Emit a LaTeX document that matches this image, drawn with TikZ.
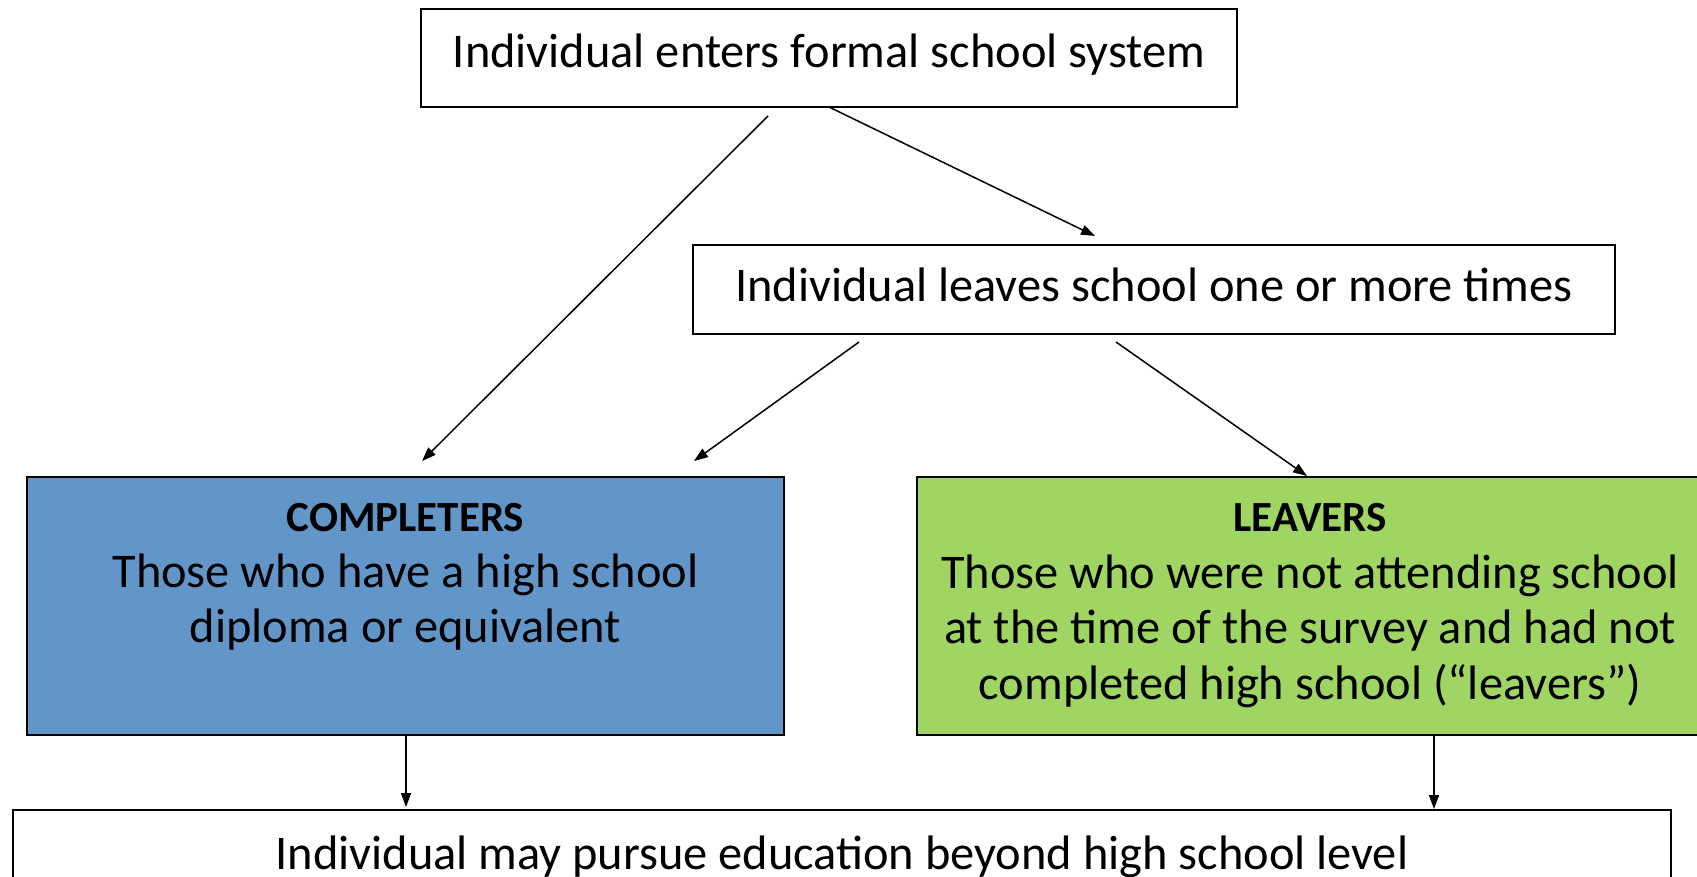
\documentclass[tikz,border=0pt]{standalone}
\usepackage{fontspec}
\setmainfont{Carlito}
\usetikzlibrary{arrows.meta}
\definecolor{compblue}{HTML}{6296C9}
\definecolor{leavgreen}{HTML}{A1D563}
\begin{document}
\begin{tikzpicture}[x=1pt,y=-1pt,
  box/.style={draw=black, line width=2pt, inner sep=0pt},
  lbl/.style={font=\fontsize{48.4}{55.5}\selectfont, align=center, inner sep=0pt},
  head/.style={font=\fontsize{43}{48}\selectfont\bfseries, inner sep=0pt},
  conn/.style={line width=1.5pt, -{Triangle[length=14pt,width=10pt]}}]
\useasboundingbox (0,0) rectangle (1697,876);
% boxes
\node[box, minimum width=816pt, minimum height=98pt] (top) at (829,58) {};
\node[box, minimum width=922pt, minimum height=89pt] (mid) at (1154,289.5) {};
\node[box, fill=compblue, minimum width=757pt, minimum height=258pt] (comp) at (405.5,606) {};
\node[box, fill=leavgreen, minimum width=793pt, minimum height=258pt] (leav) at (1313.5,606) {};
\node[box, minimum width=1658pt, minimum height=90pt] (bot) at (842,855) {};
% texts
\node[lbl] (toptxt) at (829,55) {Individual enters formal school system};
\node[lbl] (midtxt) at (1154,285) {Individual leaves school one or more times};
\node[head] (comphead) at (405.5,518) {COMPLETERS};
\node[lbl] (comptxt) at (405.5,602) {Those who have a high school\\diploma or equivalent};
\node[head] (leavhead) at (1310,518) {LEAVERS};
\node[lbl] (leavtxt) at (1310,631) {Those who were not attending school\\at the time of the survey and had not\\completed high school (“leavers”)};
\node[lbl] (bottxt) at (842,857) {Individual may pursue education beyond high school level};
% connector end points
\coordinate (a1s) at (768,116);
\coordinate (a1e) at (422,461);
\coordinate (a2s) at (829,107);
\coordinate (a2e) at (1095,236);
\coordinate (a3s) at (859,342);
\coordinate (a3e) at (694,461);
\coordinate (a4s) at (1116,342);
\coordinate (a4e) at (1307,476);
\coordinate (a5s) at (406,736);
\coordinate (a5e) at (406,807);
\coordinate (a6s) at (1434,736);
\coordinate (a6e) at (1434,809);
\draw[conn] (a1s) -- (a1e);
\draw[conn] (a2s) -- (a2e);
\draw[conn] (a3s) -- (a3e);
\draw[conn] (a4s) -- (a4e);
\draw[conn] (a5s) -- (a5e);
\draw[conn] (a6s) -- (a6e);
\end{tikzpicture}
\end{document}
